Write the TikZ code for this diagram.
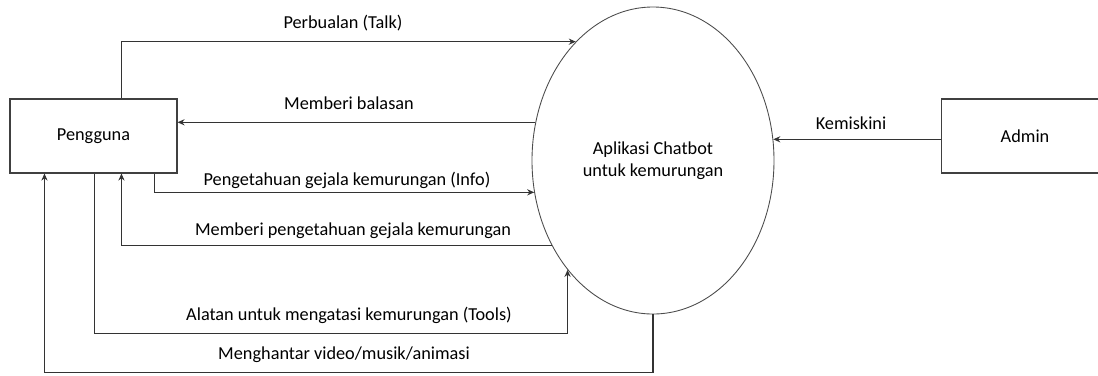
\documentclass[tikz,border=0pt]{standalone}
\usepackage{fontspec}
\setmainfont{Carlito}
\usetikzlibrary{calc,arrows.meta,shapes.geometric}
\tikzset{
  >={Stealth[length=4pt,width=3.5pt]},
  my entity/.style={
    draw=black!75,
    line width=0.6pt,
    rectangle,
    minimum width=33.4mm,
    minimum height=14.8mm,
    inner sep=0pt
  },
  my process/.style={
    draw=black!70,
    line width=0.5pt,
    ellipse,
    minimum width=48.4mm,
    minimum height=61.4mm,
    inner sep=0pt,
    align=center
  },
  my flow/.style={->,draw=black!80,line width=0.6pt},
  my label/.style={inner sep=0pt}
}

\begin{document}
\begin{tikzpicture}[x=0.2mm,y=-0.2mm,font=\fontsize{10.4}{12.5}\selectfont]
\clip (0,0) rectangle (1098,375);
\node[my entity] (user) at (93.5,136) {Pengguna};
\node[my process] (app) at (653,160.5) {Aplikasi Chatbot\\untuk kemurungan};
\node[my entity] (admin) at (1025,136) {Admin};

\draw[my flow] ($(user.north west)+(112,0)$) |- (app.123);
\draw[my flow] (app.162) -- (app.162 -| user.east);
\draw[my flow] ($(user.south west)+(145,0)$) |- (app.195);
\draw[my flow] (app.220) -| ($(user.south west)+(112,0)$);
\draw[my flow] ($(user.south west)+(85,0)$) -- ++(0,160) -| (app.232);
\draw[my flow] (app.south) -- ++(0,58) -| ($(user.south west)+(35,0)$);
\draw[my flow] (admin.west |- app.10) -- (app.10);

\node[my label] (talk) at (343,23) {Perbualan (Talk)};
\node[my label] (reply) at (349,103) {Memberi balasan};
\node[my label] (info) at (347,180) {Pengetahuan gejala kemurungan (Info)};
\node[my label] (inforeply) at (353,231) {Memberi pengetahuan gejala kemurungan};
\node[my label] (tools) at (349,315) {Alatan untuk mengatasi kemurungan (Tools)};
\node[my label] (media) at (344,355) {Menghantar video/musik/animasi};
\node[my label] (update) at (851,123) {Kemiskini};
\end{tikzpicture}
\end{document}
